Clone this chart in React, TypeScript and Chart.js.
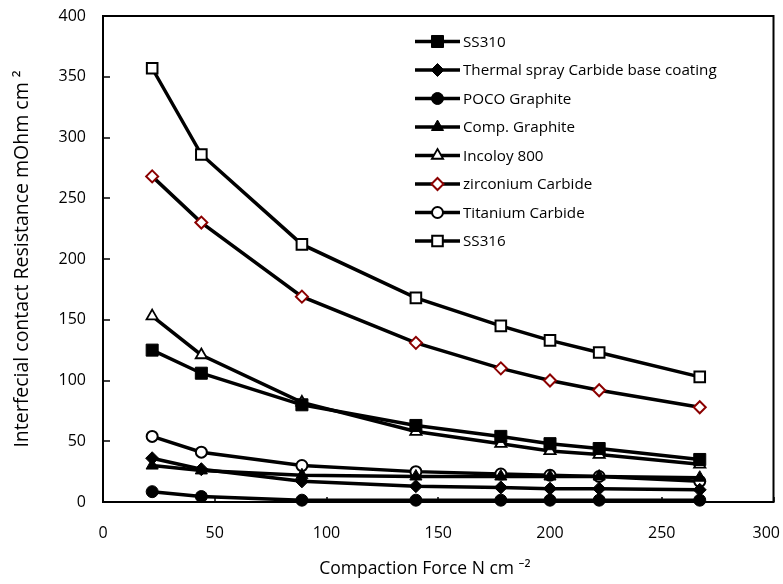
import React, { useEffect, useRef } from 'react';
import { Chart, registerables } from 'chart.js';

Chart.register(...registerables);

const FONT = '"Open Sans", "Noto Sans", sans-serif';

// Compaction force (N cm^-2)
const forces = [22, 44, 89, 140, 178, 200, 222, 267];

// Interfacial contact resistance (mOhm cm^2)
const ss310 = [125, 106, 80, 63, 54, 48, 44, 35];
const thermalSpray = [36, 27, 17, 13, 12, 11, 11, 10];
const pocoGraphite = [8.5, 4.5, 1.5, 1.5, 1.5, 1.5, 1.5, 1.5];
const compGraphite = [30, 26, 22, 21, 21, 21, 21, 20];
const incoloy800 = [153, 121, 82, 58, 48, 42, 39, 31];
const zirconiumCarbide = [268, 230, 169, 131, 110, 100, 92, 78];
const titaniumCarbide = [54, 41, 30, 25, 23, 22, 21, 17];
const ss316 = [357, 286, 212, 168, 145, 133, 123, 103];

const seriesNames = [
  'SS310',
  'Thermal spray Carbide base coating',
  'POCO Graphite',
  'Comp. Graphite',
  'Incoloy 800',
  'zirconium Carbide',
  'Titanium Carbide',
  'SS316',
];

const xTickValues = [0, 50, 100, 150, 200, 250, 300];

const xTitle = 'Compaction Force N cm \u207B\u00B2';
const yTitle = 'Interfecial contact Resistance mOhm cm \u00B2';

type MarkerStyle = {
  shape: 'rect' | 'rectRot' | 'circle' | 'triangle';
  radius: number;
  fill: string;
  stroke: string;
  width: number;
};

const markers: MarkerStyle[] = [
  { shape: 'rect', radius: 8.5, fill: '#000000', stroke: '#000000', width: 1 },
  { shape: 'rectRot', radius: 6.5, fill: '#000000', stroke: '#000000', width: 1 },
  { shape: 'circle', radius: 6, fill: '#000000', stroke: '#000000', width: 1 },
  { shape: 'triangle', radius: 7, fill: '#000000', stroke: '#000000', width: 1 },
  { shape: 'triangle', radius: 6.5, fill: '#ffffff', stroke: '#000000', width: 1.8 },
  { shape: 'rectRot', radius: 6, fill: '#ffffff', stroke: '#8B0000', width: 2 },
  { shape: 'circle', radius: 5.5, fill: '#ffffff', stroke: '#000000', width: 2 },
  { shape: 'rect', radius: 7.5, fill: '#ffffff', stroke: '#000000', width: 2 },
];

const seriesValues = [
  ss310,
  thermalSpray,
  pocoGraphite,
  compGraphite,
  incoloy800,
  zirconiumCarbide,
  titaniumCarbide,
  ss316,
];

function drawMarker(ctx: CanvasRenderingContext2D, m: MarkerStyle, x: number, y: number) {
  const r = m.radius;
  ctx.beginPath();
  if (m.shape === 'rect') {
    const s = Math.SQRT1_2 * r;
    ctx.rect(x - s, y - s, 2 * s, 2 * s);
  } else if (m.shape === 'rectRot') {
    ctx.moveTo(x - r, y);
    ctx.lineTo(x, y - r);
    ctx.lineTo(x + r, y);
    ctx.lineTo(x, y + r);
    ctx.closePath();
  } else if (m.shape === 'circle') {
    ctx.arc(x, y, r, 0, Math.PI * 2);
  } else {
    let rad = 0;
    ctx.moveTo(x + Math.sin(rad) * r, y - Math.cos(rad) * r);
    rad += (2 * Math.PI) / 3;
    ctx.lineTo(x + Math.sin(rad) * r, y - Math.cos(rad) * r);
    rad += (2 * Math.PI) / 3;
    ctx.lineTo(x + Math.sin(rad) * r, y - Math.cos(rad) * r);
    ctx.closePath();
  }
  ctx.fillStyle = m.fill;
  ctx.fill();
  ctx.lineWidth = m.width;
  ctx.strokeStyle = m.stroke;
  ctx.stroke();
}

const framePlugin = {
  id: 'frameTicks',
  beforeDatasetsDraw(chart: any) {
    const { ctx, chartArea } = chart;
    const { left, right, top, bottom } = chartArea;
    ctx.save();
    ctx.strokeStyle = '#000000';
    ctx.lineWidth = 2;
    ctx.strokeRect(left, top, right - left, bottom - top);
    ctx.lineWidth = 1.5;
    const ys = chart.scales.y;
    ys.ticks.forEach((t: any) => {
      const py = Math.round(ys.getPixelForValue(t.value));
      ctx.beginPath();
      ctx.moveTo(left, py);
      ctx.lineTo(left + 7, py);
      ctx.stroke();
    });
    const xs = chart.scales.x;
    xTickValues.forEach((v) => {
      const px = Math.round(xs.getPixelForValue(v));
      ctx.beginPath();
      ctx.moveTo(px, bottom);
      ctx.lineTo(px, bottom - 5);
      ctx.stroke();
    });
    ctx.restore();
  },
  afterDraw(chart: any) {
    const { ctx, chartArea } = chart;
    ctx.save();
    // x tick labels
    ctx.font = `16px ${FONT}`;
    ctx.fillStyle = '#000000';
    ctx.textAlign = 'center';
    ctx.textBaseline = 'middle';
    const xs = chart.scales.x;
    xTickValues.forEach((v) => {
      const label = String(v);
      const w = ctx.measureText(label).width;
      let px = xs.getPixelForValue(v);
      px = Math.min(px, chart.width - 3 - w / 2);
      ctx.fillText(label, px, chartArea.bottom + 31);
    });
    // x axis title
    ctx.font = `17.5px ${FONT}`;
    ctx.fillText(xTitle, chartArea.left + (chartArea.right - chartArea.left) * 0.48, chartArea.bottom + 67);
    // legend
    ctx.font = `15.2px ${FONT}`;
    ctx.textAlign = 'left';
    const lx0 = 415;
    const lx1 = 460;
    seriesNames.forEach((name, i) => {
      const y = 41.5 + i * 28.5;
      ctx.beginPath();
      ctx.strokeStyle = '#000000';
      ctx.lineWidth = 3.5;
      ctx.moveTo(lx0, y);
      ctx.lineTo(lx1, y);
      ctx.stroke();
      drawMarker(ctx, markers[i], (lx0 + lx1) / 2, y);
      ctx.fillStyle = '#000000';
      ctx.fillText(name, 463, y + 1);
    });
    ctx.restore();
  },
};

export default function App() {
  const canvasRef = useRef<HTMLCanvasElement | null>(null);

  useEffect(() => {
    if (!canvasRef.current) return;
    const datasets = seriesNames.map((name, i) => ({
      label: name,
      data: forces.map((x, j) => ({ x, y: seriesValues[i][j] })),
      borderColor: '#000000',
      borderWidth: 3.5,
      tension: 0,
      fill: false,
      clip: false as any,
      pointStyle: markers[i].shape,
      pointRadius: markers[i].radius,
      pointHoverRadius: markers[i].radius,
      pointBackgroundColor: markers[i].fill,
      pointBorderColor: markers[i].stroke,
      pointBorderWidth: markers[i].width,
    }));

    const chart = new Chart(canvasRef.current, {
      type: 'line',
      data: { datasets },
      plugins: [framePlugin],
      options: {
        animation: false,
        responsive: false,
        maintainAspectRatio: false,
        layout: { padding: { left: 0, right: 5, top: 16, bottom: 0 } },
        plugins: {
          legend: { display: false },
          tooltip: { enabled: false },
          title: { display: false },
        },
        scales: {
          x: {
            type: 'linear',
            min: 0,
            max: 300,
            ticks: { display: false, stepSize: 50 },
            grid: { display: false },
            border: { display: false },
            title: { display: false },
            afterFit(scale: any) {
              scale.height = 82;
              scale.paddingLeft = 0;
              scale.paddingRight = 0;
              scale.paddingTop = 0;
              scale.paddingBottom = 0;
            },
          },
          y: {
            type: 'linear',
            min: 0,
            max: 400,
            ticks: {
              stepSize: 50,
              color: '#000000',
              padding: 17,
              font: { family: FONT, size: 16 },
            },
            grid: { display: false, drawTicks: false },
            border: { display: false },
            title: {
              display: true,
              text: yTitle,
              color: '#000000',
              font: { family: FONT, size: 19.5 },
              padding: { top: 11, bottom: 0 },
            },
            afterFit(scale: any) {
              scale.width = 103;
              scale.paddingLeft = 0;
              scale.paddingRight = 0;
              scale.paddingTop = 0;
              scale.paddingBottom = 0;
            },
          },
        },
      },
    });
    return () => chart.destroy();
  }, []);

  return (
    <div style={{ position: 'absolute', left: 0, top: 0, width: 783, height: 584, background: '#ffffff' }}>
      <canvas ref={canvasRef} width={783} height={584} style={{ display: 'block' }} />
    </div>
  );
}
